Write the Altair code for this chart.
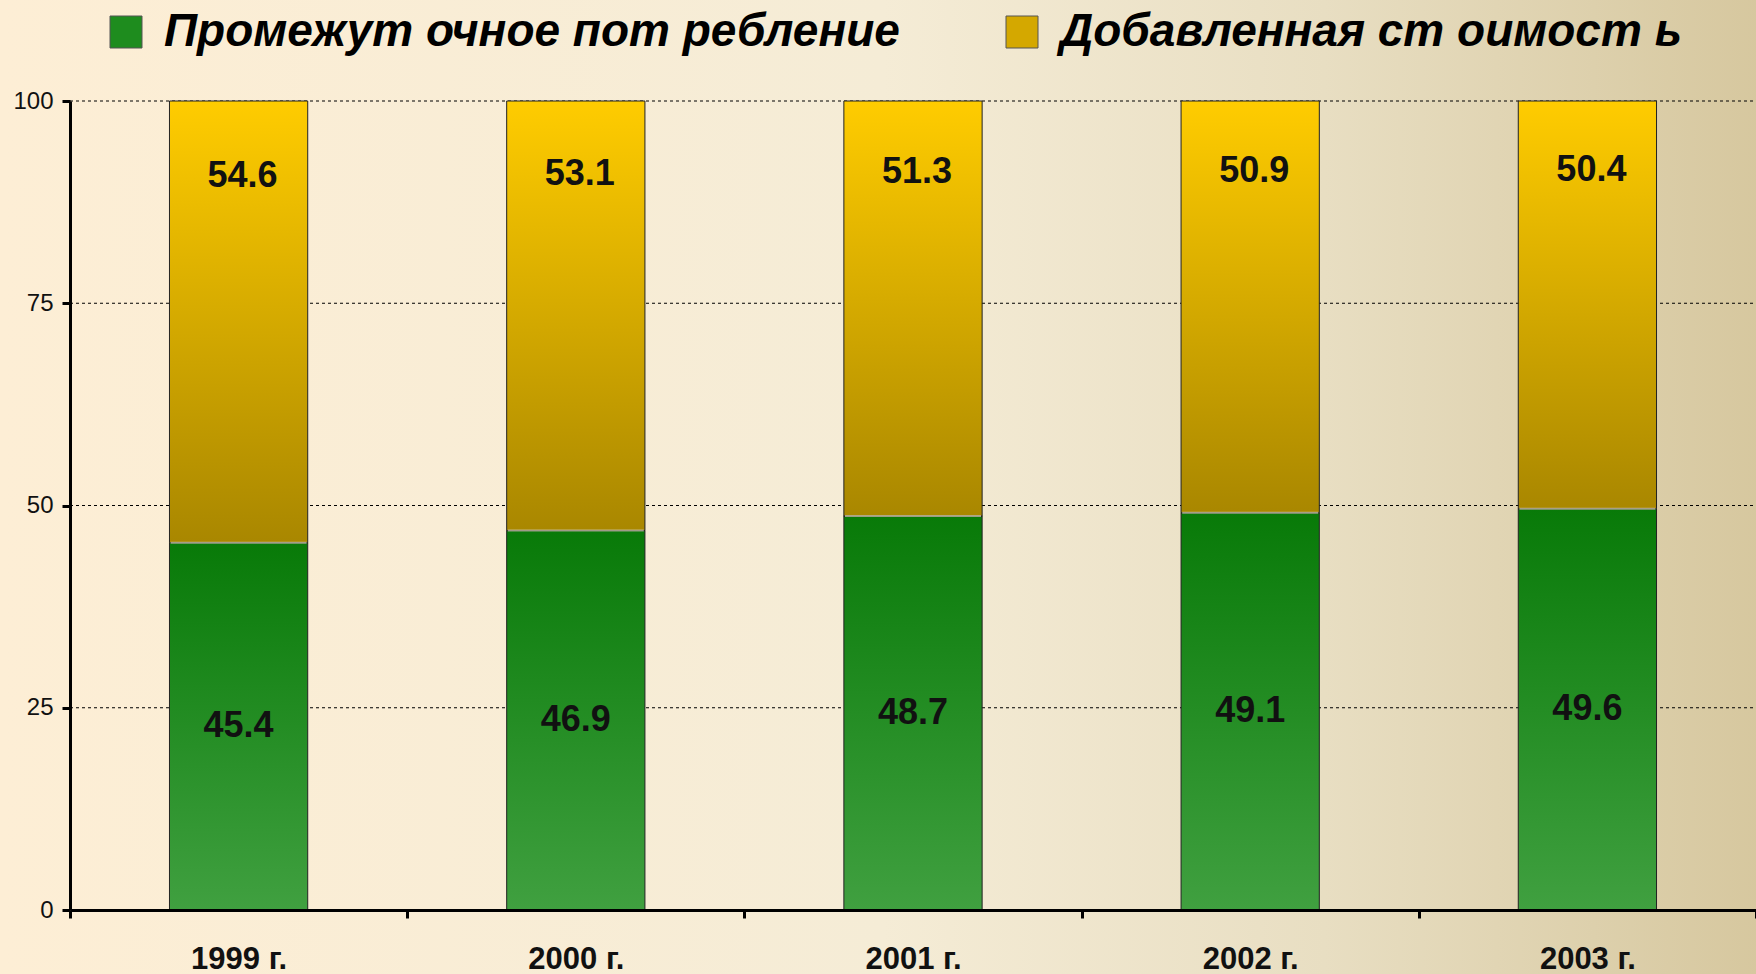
import altair as alt
import pandas as pd

years = ["1999 г.", "2000 г.", "2001 г.", "2002 г.", "2003 г."]
intermediate = [45.4, 46.9, 48.7, 49.1, 49.6]
added_value = [54.6, 53.1, 51.3, 50.9, 50.4]
series_names = ["Промежут очное пот ребление", "Добавленная ст оимост ь"]
y_ticks = [0, 25, 50, 75, 100]

W, H = 1686, 809
FONT = "Liberation Sans"

rows = []
for yr, a, b in zip(years, intermediate, added_value):
    rows.append({"year": yr, "series": series_names[0], "value": a,
                 "y0": 0.0, "y1": a, "ylab": a / 2})
    rows.append({"year": yr, "series": series_names[1], "value": b,
                 "y0": a, "y1": a + b, "ylab": a + 0.83 * b})
df = pd.DataFrame(rows)
junction = pd.DataFrame({"year": years, "v": intermediate})
grid_df = pd.DataFrame({"v": y_ticks[1:]})
bg_df = pd.DataFrame({"k": [0]})

green_grad = {"gradient": "linear", "x1": 0, "y1": 0, "x2": 0, "y2": 1,
              "stops": [{"offset": 0, "color": "#087A08"},
                        {"offset": 1, "color": "#40A040"}]}
gold_grad = {"gradient": "linear", "x1": 0, "y1": 0, "x2": 0, "y2": 1,
             "stops": [{"offset": 0, "color": "#FFCC00"},
                       {"offset": 1, "color": "#A98700"}]}
bg_grad = {"gradient": "linear", "x1": 0, "y1": 0, "x2": 1, "y2": 0,
           "stops": [{"offset": 0, "color": "#FDEED5"},
                     {"offset": 0.5, "color": "#F5ECD6"},
                     {"offset": 0.75, "color": "#E8DEC2"},
                     {"offset": 1, "color": "#D6C79E"}]}

xaxis = alt.Axis(title=None, labelAngle=0, tickBand="extent", labelFont=FONT,
                 labelFontSize=31, labelFontWeight="bold", labelColor="#111",
                 domainColor="black", domainWidth=3, tickColor="black",
                 tickWidth=3, tickSize=8, labelPadding=26, grid=False, zindex=1)
yaxis = alt.Axis(title=None, values=y_ticks, labelFont=FONT, labelFontSize=24,
                 labelColor="#111", domainColor="black", domainWidth=3,
                 tickColor="black", tickWidth=3, tickSize=8, labelPadding=9,
                 grid=False, zindex=1)
X = alt.X("year:N", sort=years, axis=xaxis,
          scale=alt.Scale(paddingInner=0, paddingOuter=0))
yscale = alt.Scale(domain=[0, 100], nice=False)

background = alt.Chart(bg_df).mark_rect(fill=bg_grad).encode(
    x=alt.value(-70), x2=alt.value(W + 10), y=alt.value(-101), y2=alt.value(H + 70)
)

grid = alt.Chart(grid_df).mark_rule(color="black", strokeWidth=1.2,
                                    strokeDash=[3, 3]).encode(
    y=alt.Y("v:Q", scale=yscale, axis=yaxis), x=alt.value(0), x2=alt.value(W)
)

green_data = alt.Chart(df).transform_filter(alt.datum.series == series_names[0])
gold_data = alt.Chart(df).transform_filter(alt.datum.series == series_names[1])

bars_g = green_data.mark_bar(fill=green_grad, stroke="#222", strokeWidth=1,
                             width=alt.RelativeBandSize(0.41)).encode(
    x=X, y=alt.Y("y0:Q", scale=yscale, axis=yaxis), y2="y1:Q"
)
bars_y = gold_data.mark_bar(fill=gold_grad, stroke="#222", strokeWidth=1,
                            width=alt.RelativeBandSize(0.41)).encode(
    x=X, y=alt.Y("y0:Q", scale=yscale, axis=yaxis), y2="y1:Q"
)

junc = alt.Chart(junction).mark_tick(color="#D2CCB6", thickness=2, size=136).encode(
    x=X, y=alt.Y("v:Q", scale=yscale, axis=yaxis)
)

labels_g = green_data.mark_text(font=FONT, fontSize=36, fontWeight="bold",
                                color="#111", baseline="middle").encode(
    x=X, y=alt.Y("ylab:Q", scale=yscale, axis=yaxis),
    text=alt.Text("value:Q", format=".1f")
)
labels_y = gold_data.mark_text(font=FONT, fontSize=36, fontWeight="bold",
                               color="#111", baseline="middle", dx=4).encode(
    x=X, y=alt.Y("ylab:Q", scale=yscale, axis=yaxis),
    text=alt.Text("value:Q", format=".1f")
)

legend_layer = alt.Chart(df).mark_square(filled=True, opacity=0).encode(
    x=X, y=alt.Y("y1:Q", scale=yscale, axis=yaxis),
    color=alt.Color("series:N",
                    scale=alt.Scale(domain=series_names,
                                    range=["#1E8C1E", "#D4A800"]),
                    legend=alt.Legend(title=None, orient="none", legendX=33,
                                      legendY=-92, direction="horizontal",
                                      symbolType="square", symbolSize=1024,
                                      symbolOpacity=1, symbolStrokeColor="#555",
                                      symbolStrokeWidth=1,
                                      labelFont=FONT, labelFontSize=46,
                                      labelFontStyle="italic",
                                      labelFontWeight="bold", labelColor="black",
                                      labelLimit=1200, labelOffset=15,
                                      columnPadding=99, padding=0))
)

chart = alt.layer(background, grid, bars_g, bars_y, junc, labels_g, labels_y,
                  legend_layer).properties(
    width=W, height=H,
    autosize=alt.AutoSizeParams(type="none"),
    padding={"left": 70, "top": 101, "right": 0, "bottom": 64},
    background="#FDEED5",
).configure_view(stroke=None)

chart.save("out.html", embed_options={"renderer": "svg", "actions": False})
